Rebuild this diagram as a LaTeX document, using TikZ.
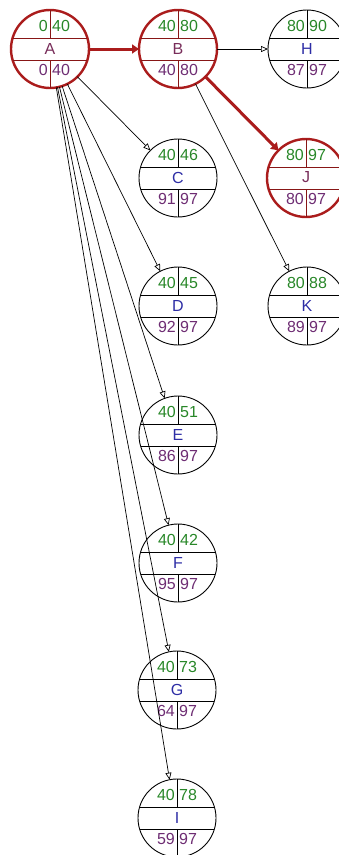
\documentclass[tikz,border=0pt]{standalone}
\usepackage{fontspec}
\setmainfont{Liberation Sans}
\usetikzlibrary{arrows.meta}
\definecolor{esgreen}{RGB}{40,135,40}
\definecolor{letblue}{RGB}{45,45,165}
\definecolor{lspurple}{RGB}{110,45,115}
\definecolor{critred}{RGB}{170,28,28}
\definecolor{critlet}{RGB}{120,45,90}
\tikzset{
  normcirc/.style={circle, draw=black, line width=0.9pt, minimum size=78pt, inner sep=0pt, outer sep=0pt},
  critcirc/.style={circle, draw=critred, line width=2.4pt, minimum size=78pt, inner sep=0pt, outer sep=0pt},
  norminner/.style={draw=black, line width=0.9pt},
  critinner/.style={draw=critred!80!black, line width=0.9pt},
  normlet/.style={text=letblue},
  critlet/.style={text=critlet},
  txt/.style={inner sep=0pt, font=\fontsize{16}{16}\selectfont},
  edge/.style={draw=black, line width=0.7pt, -{Triangle[open, length=7pt, width=6pt]}},
  critedge/.style={draw=critred, line width=3pt, -{Triangle[length=7pt, width=9pt]}}
}
\newcommand\pertnode[9]{%
  \node[#9circ] (#1) at (#2,#3) {};
  \draw[#9inner] ({#2-37.4},{#3-11}) -- ({#2+37.4},{#3-11});
  \draw[#9inner] ({#2-37.4},{#3+11}) -- ({#2+37.4},{#3+11});
  \draw[#9inner] (#2,{#3-39}) -- (#2,{#3-11});
  \draw[#9inner] (#2,{#3+11}) -- (#2,{#3+39});
  \node[txt, text=esgreen, anchor=east] (#1es) at ({#2-2},{#3-23}) {#5};
  \node[txt, text=esgreen, anchor=west] (#1ef) at ({#2+2},{#3-23}) {#6};
  \node[txt, #9let] (#1l) at (#2,{#3-0.5}) {#4};
  \node[txt, text=lspurple, anchor=east] (#1ls) at ({#2-2},{#3+21}) {#7};
  \node[txt, text=lspurple, anchor=west] (#1lf) at ({#2+2},{#3+21}) {#8};
}
\begin{document}
\begin{tikzpicture}[x=1pt, y=-1pt]
\useasboundingbox (0,0) rectangle (339,855);
\pertnode{A}{50}{49}{A}{0}{40}{0}{40}{crit}
\pertnode{B}{178}{49}{B}{40}{80}{40}{80}{crit}
\pertnode{H}{307}{49}{H}{80}{90}{87}{97}{norm}
\pertnode{C}{178}{178}{C}{40}{46}{91}{97}{norm}
\pertnode{J}{306}{178}{J}{80}{97}{80}{97}{crit}
\pertnode{D}{178}{306}{D}{40}{45}{92}{97}{norm}
\pertnode{K}{307}{306}{K}{80}{88}{89}{97}{norm}
\pertnode{E}{178}{435}{E}{40}{51}{86}{97}{norm}
\pertnode{F}{178}{563}{F}{40}{42}{95}{97}{norm}
\pertnode{G}{177}{690}{G}{40}{73}{64}{97}{norm}
\pertnode{I}{177}{818}{I}{40}{78}{59}{97}{norm}
\draw[critedge] (A) -- (B);
\draw[edge] (B) -- (H);
\draw[critedge] (B) -- (J.135);
\draw[edge] (B) -- (K.117);
\draw[edge] (A) -- (C.135);
\draw[edge] (A) -- (D.117);
\draw[edge] (A) -- (E.110);
\draw[edge] (A) -- (F.104);
\draw[edge] (A) -- (G.102);
\draw[edge] (A) -- (I.101);
\end{tikzpicture}
\end{document}
